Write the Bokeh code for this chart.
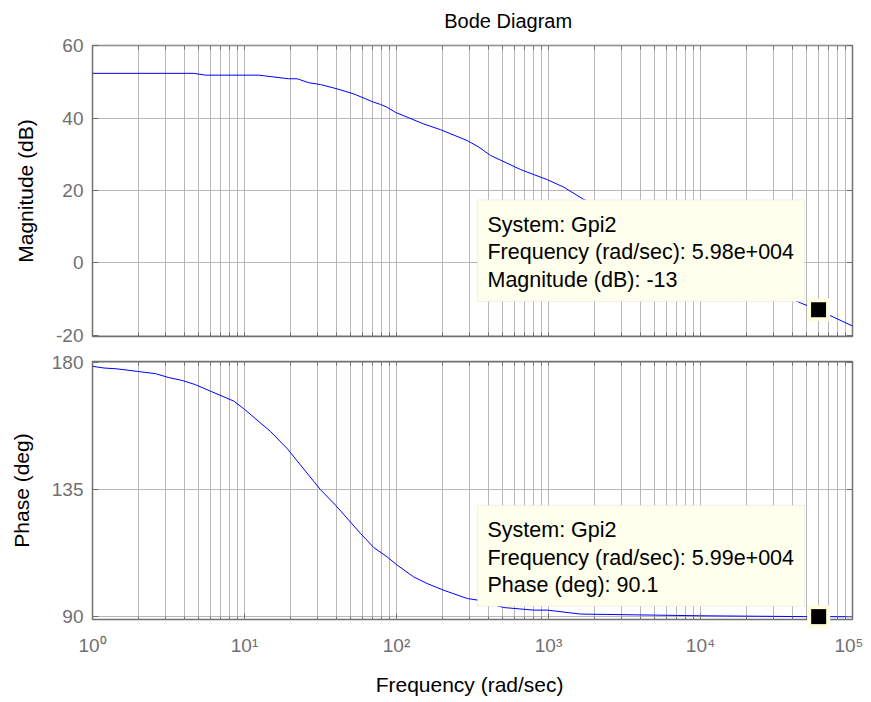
from bokeh.plotting import figure
from bokeh.layouts import column
from bokeh.models import Range1d, FixedTicker, LinearAxis, BoxAnnotation, Label
from bokeh.core.properties import value
from bokeh.embed import file_html
from bokeh.resources import INLINE

# ---------------- data ----------------
mag_freq = [1, 4.64, 5.54, 12.4, 19.5, 22.2, 26.5, 31.6, 40.7, 52.4, 70.9, 78.5, 86.9, 98.5,
            151, 195, 292, 348, 415, 654, 800, 980, 1261, 1708, 45500, 59800, 100000]
mag_db = [52.4, 52.4, 51.9, 51.9, 50.9, 50.9, 49.8, 49.3, 48.1, 46.7, 44.4, 43.8, 43.0, 41.6,
          38.4, 36.8, 33.8, 32.0, 29.7, 25.8, 24.4, 23.0, 20.9, 17.5, -11.1, -13.1, -17.5]

ph_freq = [1, 1.19, 1.45, 1.97, 2.60, 3.18, 3.89, 4.76, 5.98, 8.50, 9.89, 14.8, 19.1, 31.6,
           39.7, 58.0, 70.9, 86.9, 101, 130, 159, 205, 292, 346, 508, 800, 981, 1625, 10000,
           47600, 100000]
ph_deg = [178.6, 178.0, 177.7, 176.8, 176.0, 174.6, 173.6, 172.1, 169.8, 166.3, 163.6, 155.6,
          149.5, 135.0, 129.5, 119.5, 114.5, 111.2, 108.3, 104.1, 101.8, 99.4, 96.5, 95.9, 93.3,
          92.4, 92.4, 91.0, 90.4, 90.1, 90.05]

tip_mag_freq = [5.98e4]
tip_mag_val = [-13]
tip_ph_freq = [5.99e4]
tip_ph_val = [90.1]

mag_ticks = [-20, 0, 20, 40, 60]
mag_tick_labels = ["-20", "0", "20", "40", "60"]
ph_ticks = [90, 135, 180]
ph_tick_labels = ["90", "135", "180"]
x_decades = [1, 10, 100, 1000, 10000, 100000]
x_tick_labels = ["10\u2070", "10\u00b9", "10\u00b2", "10\u00b3", "10\u2074", "10\u2075"]

title_text = "Bode Diagram"
tip_mag_text = ["System: Gpi2", "Frequency (rad/sec): 5.98e+004", "Magnitude (dB): -13"]
tip_ph_text = ["System: Gpi2", "Frequency (rad/sec): 5.99e+004", "Phase (deg): 90.1"]

# ---------------- styling / layout ----------------
FONT = "Liberation Sans"
AX_COL = "#707070"
GRID_COL = "#B8B8B8"
TIP_FILL = "#FFFFED"
TIP_LINE = "#CCCCCC"
BORDER_L, FRAME_W, BORDER_R = 92, 760, 11
TOTAL_W = BORDER_L + FRAME_W + BORDER_R
TITLE_H = 33

x_minor = [m * d for d in x_decades[:-1] for m in range(2, 10)]
x_grid = sorted(x_decades + x_minor)


def style_axis(ax):
    ax.axis_line_color = None
    ax.major_tick_in = 6
    ax.major_tick_out = 0
    ax.minor_tick_in = 3
    ax.minor_tick_out = 0
    ax.major_tick_line_color = AX_COL
    ax.minor_tick_line_color = AX_COL
    ax.major_label_text_font = FONT
    ax.major_label_text_color = AX_COL
    ax.major_label_text_font_size = "19px"
    ax.axis_label_text_font = FONT
    ax.axis_label_text_font_style = "normal"
    ax.axis_label_text_color = "black"
    ax.axis_label_text_font_size = "21px"


def tick_only_axis(positions, tick_len):
    # an axis with only minor ticks draws tick marks but no labels
    ax = LinearAxis(ticker=FixedTicker(ticks=[], minor_ticks=positions))
    style_axis(ax)
    ax.minor_tick_in = tick_len
    ax.major_label_standoff = 0
    return ax


def make_fig(y_range, y_ticks, y_tick_labels, y_label, frame_h, top, bottom, x_labels):
    p = figure(x_axis_type="log", x_range=Range1d(1, 1e5), y_range=y_range,
               frame_width=FRAME_W, frame_height=frame_h,
               min_border_left=BORDER_L, min_border_right=BORDER_R,
               min_border_top=top, min_border_bottom=bottom,
               x_axis_location=None, y_axis_location=None,
               toolbar_location=None, output_backend="svg")
    p.outline_line_color = AX_COL
    p.outline_line_width = 1.5
    p.background_fill_color = "white"
    p.border_fill_color = "white"

    # the grids that figure() creates, given our own tick positions
    p.xgrid.ticker = FixedTicker(ticks=x_grid)
    p.ygrid.ticker = FixedTicker(ticks=y_ticks)
    p.xgrid.grid_line_color = GRID_COL
    p.ygrid.grid_line_color = GRID_COL
    p.xgrid.grid_line_width = 1
    p.ygrid.grid_line_width = 1

    left = LinearAxis(ticker=FixedTicker(ticks=y_ticks, minor_ticks=[]), axis_label=y_label,
                      major_label_overrides={t: s for t, s in zip(y_ticks, y_tick_labels)})
    style_axis(left)
    left.major_label_standoff = 9
    left.axis_label_standoff = 16
    p.add_layout(left, "left")
    p.add_layout(tick_only_axis(y_ticks, 6), "right")

    p.add_layout(tick_only_axis(x_grid, 4), "above")
    if x_labels:
        below = LinearAxis(ticker=FixedTicker(ticks=x_decades, minor_ticks=x_minor),
                           axis_label="Frequency  (rad/sec)",
                           major_label_overrides={t: s for t, s in zip(x_decades, x_tick_labels)})
        style_axis(below)
        below.major_label_standoff = 15
        below.axis_label_standoff = 14
        p.add_layout(below, "below")
    else:
        p.add_layout(tick_only_axis(x_grid, 4), "below")
    return p


def add_tip(p, box, lines, mf, mv):
    p.add_layout(BoxAnnotation(left=box[0], right=box[1], top=box[2], bottom=box[3],
                               fill_color=TIP_FILL, fill_alpha=1.0,
                               line_color=TIP_LINE, line_width=1, level="overlay"))
    for i, t in enumerate(lines):
        p.add_layout(Label(x=box[0], y=box[2], text=t, x_offset=10, y_offset=-(25 + 27.5 * i),
                           text_baseline="middle", text_align="left", text_font=FONT,
                           text_font_size="21.5px", text_color="black", level="overlay"))
    p.scatter(mf, mv, marker="square", size=23, fill_color="#FFFFE0", line_color=None, level="overlay")
    p.scatter(mf, mv, marker="square", size=15, fill_color="black", line_color=None, level="overlay")


# title strip: a bare canvas measured in pixels, title centred over the plot area
pt = figure(width=TOTAL_W, height=TITLE_H, x_range=Range1d(0, TOTAL_W), y_range=Range1d(0, TITLE_H),
            min_border=0, x_axis_location=None, y_axis_location=None,
            toolbar_location=None, output_backend="svg")
pt.outline_line_color = None
pt.xgrid.visible = False
pt.ygrid.visible = False
pt.text(x=[BORDER_L + FRAME_W / 2], y=[TITLE_H - 20.5], text=[title_text],
        text_align="center", text_baseline="middle", text_font=value(FONT),
        text_font_size="20px", text_color="black")

p1 = make_fig(Range1d(-20.4, 60.1), mag_ticks, mag_tick_labels, "Magnitude (dB)", 291, 12, 12, False)
p1.line(mag_freq, mag_db, line_color="#0000FF", line_width=1)
add_tip(p1, (341, 48300, 17.4, -10.7), tip_mag_text, tip_mag_freq, tip_mag_val)

p2 = make_fig(Range1d(89.08, 180.3), ph_ticks, ph_tick_labels, "Phase (deg)", 258, 13, 75, True)
p2.line(ph_freq, ph_deg, line_color="#0000FF", line_width=1)
add_tip(p2, (341, 48300, 129.45, 93.8), tip_ph_text, tip_ph_freq, tip_ph_val)

layout = column(pt, p1, p2, spacing=0)
open("out.html", "w").write(file_html(layout, INLINE))
